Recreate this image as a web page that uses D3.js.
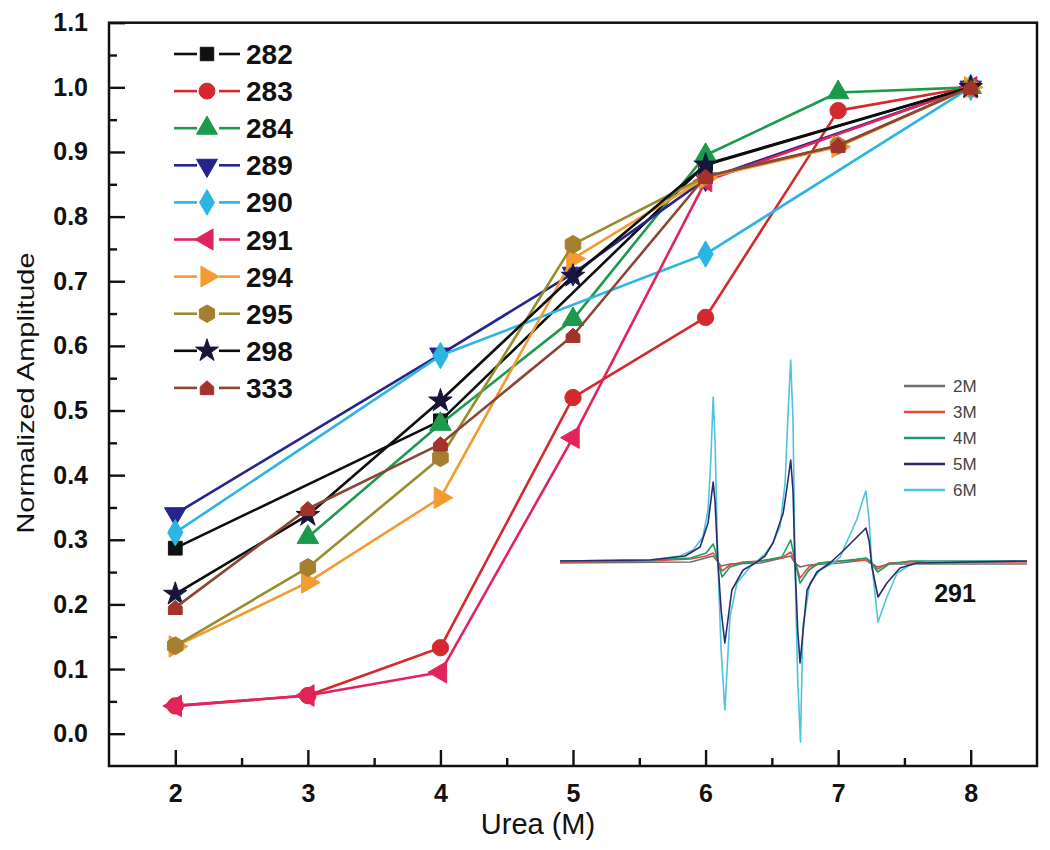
<!DOCTYPE html>
<html><head><meta charset="utf-8">
<script src="https://cdn.jsdelivr.net/npm/d3@7"></script>
<style>body{margin:0;background:#fff}svg{display:block}</style>
</head><body>
<svg id="c" width="1050" height="850"></svg>
<script>
// ---------- data ----------
const urea = [2, 3, 4, 5, 6, 7, 8];
const seriesNames = ["282", "283", "284", "289", "290", "291", "294", "295", "298", "333"];
const v282 = [0.287, null, 0.484, null, 0.881, null, 1.0];
const v283 = [0.043, 0.059, 0.133, 0.520, 0.644, 0.964, 1.0];
const v284 = [null, 0.304, 0.479, 0.641, 0.895, 0.992, 1.0];
const v289 = [0.340, null, 0.587, 0.712, 0.858, null, 1.0];
const v290 = [0.311, null, 0.585, null, 0.742, null, 1.0];
const v291 = [0.043, 0.059, 0.095, 0.458, 0.855, null, 1.0];
const v294 = [0.135, 0.234, 0.365, 0.735, 0.860, 0.908, 1.0];
const v295 = [0.136, 0.257, 0.427, 0.757, 0.862, 0.910, 1.0];
const v298 = [0.216, 0.338, 0.515, 0.708, 0.880, null, 1.0];
const v333 = [0.195, 0.348, 0.448, 0.616, 0.862, 0.910, 1.0];
const yTickValues = [0.0, 0.1, 0.2, 0.3, 0.4, 0.5, 0.6, 0.7, 0.8, 0.9, 1.0, 1.1];
const xTickValues = [2, 3, 4, 5, 6, 7, 8];

// inset EPR spectra of mutant 291: [field (a.u.), signal (a.u.)]
const insetLabels = ["2M", "3M", "4M", "5M", "6M"];
const trace2M = [[0,-1],[28,-0.5],[32.8,2.5],[33.8,-0.5],[34.5,-2.5],[36.4,-1.5],[43,-1],[49.4,2.5],[50.3,-1],[51.4,-3],[53.3,-2],[60,-1],[65.5,0.5],[66.4,-1],[68,-3],[70.5,-1.5],[100,-1.5]];
const trace3M = [[0,-0.5],[19.3,0],[28,1],[31.3,2.5],[32.8,4],[33.3,2.5],[33.8,0],[34.7,-5],[36.4,-2],[39.2,-0.5],[43,0],[47.5,1.5],[49.4,4.5],[49.9,2],[50.3,0],[51.4,-8.5],[53.3,-3],[55.5,-1],[60,0],[65.5,0.5],[66.4,0],[68,-4],[70.5,-1],[75,-0.5],[100,-0.5]];
const trace4M = [[0,0],[19.3,0.5],[28,1.5],[31.3,4],[32.8,8.5],[33.3,5],[33.8,0],[34.7,-8],[36.4,-3],[39.2,-1],[43,0],[47.5,2],[49.4,10.5],[49.9,5],[50.3,0],[51.4,-11],[53.3,-4.5],[55.5,-1],[60,0],[63.5,0.8],[65.5,1.5],[66.4,0],[68,-5.5],[70.5,-1.5],[75,0],[100,0]];
const trace5M = [[0,0],[19.3,0.5],[26.8,2.5],[30,7],[31.7,19],[32.3,30],[32.8,39.5],[33.2,30],[33.8,0],[34.5,-24.5],[35.3,-41],[36.8,-14.5],[39.2,-4.5],[42.2,-0.5],[43.9,2.5],[45.6,9],[47.8,24],[48.8,40],[49.4,50.5],[49.9,35],[50.3,0],[50.9,-34.5],[51.4,-51],[52.9,-14.5],[55,-5.5],[57.8,-1],[60.6,5],[63.6,12],[64.9,15],[65.5,16.5],[66.2,10],[66.8,-3],[68.1,-18],[70,-11],[72.8,-3.5],[76.4,-1],[100,0]];
const trace6M = [[0,0],[19.3,0.5],[25.7,2.5],[28.5,5.5],[30.6,12],[31.7,25.5],[32.3,50.5],[32.8,82],[33.2,60],[33.8,0],[34.5,-44.5],[35.3,-74.5],[36.4,-28],[37.9,-11],[40.7,-3],[42.2,0],[43.9,3.5],[45.6,9],[47.1,17],[48.2,39],[48.8,72],[49.4,100.5],[49.9,70],[50.3,0],[50.9,-59.5],[51.5,-90.5],[52.0,-33],[53.5,-11],[55.7,-4.5],[58.5,-1],[60.0,2],[61.5,10],[63.6,21],[64.9,31],[65.5,35],[66.2,20],[66.8,-2],[68.1,-30.5],[70.0,-18],[72.2,-6],[74.9,-2],[78.6,-0.5],[100,0]];
const insetTag = "291";

// ---------- styles ----------
const lineColors   = ["#0d0d0d","#d42a2e","#1c9a4c","#24248c","#2bb5e3","#e2245c","#f49a32","#978d2e","#0d0d0d","#8a4634"];
const markerColors = ["#111111","#d42a2e","#1c9a4c","#24248c","#2bb5e3","#e2245c","#f49a32","#a67f2e","#16163a","#a3332a"];
const insetColors = ["#707070","#e8483a","#1b9a66","#2b2b6b","#4cc4dc"];

// custom symbols
const symHexagon = { draw(ctx, size) {
  const r = Math.sqrt(size / (1.5 * Math.sqrt(3)));
  for (let i = 0; i < 6; i++) {
    const a = Math.PI / 6 + i * Math.PI / 3;
    const px = r * Math.cos(a), py = r * Math.sin(a);
    if (i === 0) ctx.moveTo(px, py); else ctx.lineTo(px, py);
  }
  ctx.closePath();
}};
const symHouse = { draw(ctx, size) {
  const r = Math.sqrt(size) / 2.1;
  ctx.moveTo(-r, r); ctx.lineTo(r, r); ctx.lineTo(r, -0.15 * r);
  ctx.lineTo(0, -r * 1.05); ctx.lineTo(-r, -0.15 * r); ctx.closePath();
}};
const markerDefs = [
  {type: d3.symbolSquare,   size: 190, rot: 0},
  {type: d3.symbolCircle,   size: 210, rot: 0},
  {type: d3.symbolTriangle, size: 200, rot: 0},
  {type: d3.symbolTriangle, size: 200, rot: 180},
  {type: d3.symbolDiamond,  size: 200, rot: 0},
  {type: d3.symbolTriangle, size: 200, rot: -90},
  {type: d3.symbolTriangle, size: 200, rot: 90},
  {type: symHexagon,        size: 210, rot: 0},
  {type: d3.symbolStar,     size: 170, rot: 0},
  {type: symHouse,          size: 210, rot: 0}
];

const allValues = [v282, v283, v284, v289, v290, v291, v294, v295, v298, v333];
const series = seriesNames.map((name, i) => ({
  name, color: lineColors[i], mcolor: markerColors[i], marker: markerDefs[i],
  points: urea.map((u, j) => ({x: u, y: allValues[i][j]})).filter(p => p.y !== null)
}));

// ---------- scales ----------
const svg = d3.select("#c");
const L = 109, R = 1037, T = 22.7, B = 766;
const x = d3.scaleLinear().domain([1.5, 8.5]).range([L, R]);
const y = d3.scaleLinear().domain([-0.05, 1.1]).range([B, T]);

// ---------- inset ----------
const ix = d3.scaleLinear().domain([0, 100]).range([560, 1027]);
const iy = d3.scaleLinear().domain([-100, 100]).range([761, 361]);
const insetTraces = [trace2M, trace3M, trace4M, trace5M, trace6M];
const iline = d3.line().x(d => ix(d[0])).y(d => iy(d[1]));
const gInset = svg.append("g");
[0, 1, 2, 4, 3].forEach(k => {
  gInset.append("path").attr("d", iline(insetTraces[k]))
    .attr("fill", "none").attr("stroke", insetColors[k]).attr("stroke-width", 1.6)
    .attr("stroke-linejoin", "round");
});
const gIL = gInset.append("g");
insetLabels.forEach((lab, k) => {
  const yy = 386 + k * 26;
  gIL.append("line").attr("x1", 904).attr("x2", 945).attr("y1", yy).attr("y2", yy)
    .attr("stroke", insetColors[k]).attr("stroke-width", 2.5);
  gIL.append("text").attr("x", 953).attr("y", yy).attr("dy", "0.36em")
    .attr("font-family", "Liberation Sans, Arial, sans-serif").attr("font-size", 17)
    .attr("fill", "#444").text(lab);
});
gInset.append("text").attr("x", 955).attr("y", 602).attr("text-anchor", "middle")
  .attr("font-family", "Liberation Sans, Arial, sans-serif").attr("font-weight", "bold")
  .attr("font-size", 25).attr("fill", "#111").text(insetTag);

// ---------- series ----------
const line = d3.line().x(d => x(d.x)).y(d => y(d.y));
const gS = svg.append("g");
series.forEach(s => {
  const g = gS.append("g");
  g.append("path").attr("d", line(s.points)).attr("fill", "none")
    .attr("stroke", s.color).attr("stroke-width", 2.6).attr("stroke-linejoin", "round");
  const sym = d3.symbol().type(s.marker.type).size(s.marker.size);
  g.selectAll("path.m").data(s.points).join("path").attr("class", "m")
    .attr("d", sym)
    .attr("transform", d => `translate(${x(d.x)},${y(d.y)}) rotate(${s.marker.rot})`)
    .attr("fill", s.mcolor).attr("stroke", s.mcolor).attr("stroke-width", 1);
});

// ---------- axes ----------
const fontTick = "Liberation Sans, Arial, sans-serif";
const gx = svg.append("g").attr("transform", `translate(0,${B})`)
  .call(d3.axisBottom(x).tickValues(xTickValues).tickFormat(d3.format("d"))
    .tickSizeInner(-16).tickSizeOuter(0).tickPadding(18));
const gxm = svg.append("g").attr("transform", `translate(0,${B})`)
  .call(d3.axisBottom(x).tickValues(xTickValues.slice(0, -1).map(v => v + 0.5))
    .tickFormat("").tickSizeInner(-8).tickSizeOuter(0));
const gy = svg.append("g").attr("transform", `translate(${L},0)`)
  .call(d3.axisLeft(y).tickValues(yTickValues).tickFormat(d3.format(".1f"))
    .tickSizeInner(-16).tickSizeOuter(0).tickPadding(21));
const gym = svg.append("g").attr("transform", `translate(${L},0)`)
  .call(d3.axisLeft(y).tickValues(yTickValues.slice(0, -1).map(v => +(v + 0.05).toFixed(2)))
    .tickFormat("").tickSizeInner(-8).tickSizeOuter(0));
[gx, gxm, gy, gym].forEach(g => {
  g.select(".domain").remove();
  g.selectAll("line").attr("stroke", "#111").attr("stroke-width", 2.4);
  g.selectAll("text").attr("font-family", fontTick).attr("font-weight", "bold")
    .attr("font-size", 25).attr("fill", "#111");
});

svg.append("rect").attr("x", L).attr("y", T).attr("width", R - L).attr("height", B - T)
  .attr("fill", "none").attr("stroke", "#111").attr("stroke-width", 2.5);

// axis titles
svg.append("text").attr("transform", "translate(34,393) rotate(-90)")
  .attr("text-anchor", "middle").attr("font-family", fontTick).attr("font-size", 24)
  .attr("textLength", 281).attr("lengthAdjust", "spacingAndGlyphs")
  .attr("fill", "#111").text("Normalized Amplitude");
svg.append("text").attr("x", 538).attr("y", 834).attr("text-anchor", "middle")
  .attr("font-family", fontTick).attr("font-size", 29).attr("fill", "#111").text("Urea (M)");

// ---------- legend ----------
const gL = svg.append("g");
series.forEach((s, i) => {
  const yy = 54 + i * 37.1;
  gL.append("line").attr("x1", 174).attr("x2", 197).attr("y1", yy).attr("y2", yy)
    .attr("stroke", s.color).attr("stroke-width", 2.6);
  gL.append("line").attr("x1", 219).attr("x2", 240).attr("y1", yy).attr("y2", yy)
    .attr("stroke", s.color).attr("stroke-width", 2.6);
  gL.append("path").attr("d", d3.symbol().type(s.marker.type).size(s.marker.size * 0.95)())
    .attr("transform", `translate(207,${yy}) rotate(${s.marker.rot})`)
    .attr("fill", s.mcolor).attr("stroke", s.mcolor).attr("stroke-width", 1);
  gL.append("text").attr("x", 246).attr("y", yy).attr("dy", "0.36em")
    .attr("font-family", fontTick).attr("font-weight", "bold").attr("font-size", 28)
    .attr("fill", "#111").text(s.name);
});
</script>
</body></html>
